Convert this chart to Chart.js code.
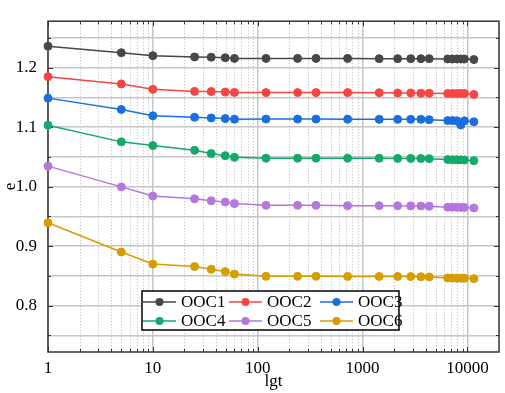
<!DOCTYPE html>
<html>
<head>
<meta charset="utf-8">
<script src="https://cdn.jsdelivr.net/npm/chart.js@4.4.0/dist/chart.umd.min.js"></script>
<style>
  body { margin: 0; background: #fff; }
</style>
</head>
<body>
<canvas id="chart" width="505" height="393"></canvas>
<script>
// time points (x, log axis)
const times = [1, 5, 10, 25, 36, 49, 60, 120, 240, 360, 720, 1440, 2160, 2880, 3600, 4320, 6480, 7200, 7920, 8640, 9360, 11520];

const ooc1 = [1.236, 1.225, 1.220, 1.218, 1.2175, 1.2165, 1.2155, 1.2155, 1.2155, 1.2155, 1.2155, 1.215, 1.215, 1.215, 1.215, 1.215, 1.2145, 1.2145, 1.2145, 1.2145, 1.2145, 1.2135];
const ooc2 = [1.1848, 1.1725, 1.1635, 1.160, 1.1598, 1.1588, 1.1583, 1.158, 1.158, 1.158, 1.158, 1.1578, 1.1575, 1.1575, 1.157, 1.157, 1.1565, 1.1565, 1.1565, 1.1565, 1.1565, 1.1548];
const ooc3 = [1.1487, 1.1297, 1.119, 1.1165, 1.1154, 1.1143, 1.1133, 1.1135, 1.1135, 1.1135, 1.1133, 1.113, 1.113, 1.113, 1.113, 1.1125, 1.111, 1.111, 1.1105, 1.1035, 1.1105, 1.109];
const ooc4 = [1.1032, 1.0752, 1.0689, 1.061, 1.0556, 1.052, 1.0492, 1.0478, 1.0478, 1.0478, 1.0478, 1.0476, 1.0474, 1.0474, 1.0472, 1.047, 1.0455, 1.045, 1.0452, 1.045, 1.0448, 1.0435];
const ooc5 = [1.0344, 0.9995, 0.9841, 0.9794, 0.9762, 0.9741, 0.9714, 0.9685, 0.9685, 0.9685, 0.968, 0.968, 0.9678, 0.9676, 0.9674, 0.967, 0.9655, 0.9653, 0.9652, 0.9651, 0.965, 0.9641];
const ooc6 = [0.9392, 0.890, 0.8698, 0.8657, 0.861, 0.8571, 0.853, 0.8492, 0.8492, 0.8492, 0.849, 0.849, 0.849, 0.8488, 0.8485, 0.8482, 0.8465, 0.8462, 0.846, 0.846, 0.846, 0.8452];

const seriesNames = ['OOC1', 'OOC2', 'OOC3', 'OOC4', 'OOC5', 'OOC6'];
const seriesValues = [ooc1, ooc2, ooc3, ooc4, ooc5, ooc6];
const seriesColors = ['#474747', '#f54545', '#1a6fdf', '#14a96c', '#b577de', '#d69d00'];

const xTickLabels = [1, 10, 100, 1000, 10000];
const yTickLabels = [0.8, 0.9, 1.0, 1.1, 1.2];

const FONT = 'Liberation Serif';
const GRID = '#c6c6c6';
const FRAME = '#333333';

const near = (a, b) => Math.abs(a - b) < 1e-6 * Math.max(1, Math.abs(b));
const isDecade = (v) => xTickLabels.some(t => near(v, t));
const isMajorY = (v) => yTickLabels.some(t => near(v, t));

// dotted minor grid, inward ticks and the frame, drawn under the data
const framePlugin = {
    id: 'frame',
    beforeDatasetsDraw(chart) {
        const { ctx, chartArea: a, scales: { x, y } } = chart;
        ctx.save();

        // dotted vertical lines at 2..9 of each decade
        ctx.strokeStyle = '#bbbbbb';
        ctx.lineWidth = 1;
        ctx.setLineDash([1, 2]);
        const minors = [];
        for (let d = 1; d < x.max; d *= 10) {
            for (let k = 2; k < 10; k++) {
                if (d * k < x.max) minors.push(d * k);
            }
        }
        minors.forEach(v => {
            const px = Math.round(x.getPixelForValue(v)) + 0.5;
            ctx.beginPath();
            ctx.moveTo(px, a.top);
            ctx.lineTo(px, a.bottom);
            ctx.stroke();
        });
        ctx.setLineDash([]);

        // inward ticks on all four sides
        ctx.strokeStyle = FRAME;
        ctx.lineWidth = 1;
        const xTicks = xTickLabels.map(v => [v, 5]).concat(minors.map(v => [v, 3]));
        xTicks.forEach(([v, len]) => {
            const px = Math.round(x.getPixelForValue(v)) + 0.5;
            ctx.beginPath();
            ctx.moveTo(px, a.bottom);
            ctx.lineTo(px, a.bottom - len);
            ctx.moveTo(px, a.top);
            ctx.lineTo(px, a.top + len);
            ctx.stroke();
        });
        y.ticks.forEach(t => {
            const len = isMajorY(t.value) ? 5 : 3;
            const py = Math.round(y.getPixelForValue(t.value)) + 0.5;
            ctx.beginPath();
            ctx.moveTo(a.left, py);
            ctx.lineTo(a.left + len, py);
            ctx.moveTo(a.right, py);
            ctx.lineTo(a.right - len, py);
            ctx.stroke();
        });

        ctx.lineWidth = 1.5;
        ctx.strokeRect(a.left, a.top, a.right - a.left, a.bottom - a.top);
        ctx.restore();
    }
};

// boxed legend inside the plot, three columns by two rows
const legendPlugin = {
    id: 'boxLegend',
    afterDraw(chart) {
        const { ctx } = chart;
        const box = { left: 142, top: 291, width: 257, height: 39 };
        const colX = [143, 229, 320];
        const rowY = [302, 321];
        ctx.save();
        ctx.fillStyle = '#ffffff';
        ctx.fillRect(box.left, box.top, box.width, box.height);
        ctx.strokeStyle = '#000000';
        ctx.lineWidth = 1.5;
        ctx.strokeRect(box.left, box.top, box.width, box.height);

        ctx.font = `17px "${FONT}"`;
        ctx.textBaseline = 'middle';
        chart.data.datasets.forEach((ds, i) => {
            const cx = colX[i % 3];
            const cy = rowY[Math.floor(i / 3)];
            ctx.strokeStyle = ds.borderColor;
            ctx.lineWidth = 1.5;
            ctx.beginPath();
            ctx.moveTo(cx, cy);
            ctx.lineTo(cx + 33, cy);
            ctx.stroke();
            ctx.fillStyle = ds.borderColor;
            ctx.beginPath();
            ctx.arc(cx + 16.5, cy, 4, 0, Math.PI * 2);
            ctx.fill();
            ctx.fillStyle = '#000000';
            ctx.fillText(ds.label, cx + 38, cy + 1);
        });
        ctx.restore();
    }
};

const datasets = seriesNames.map((name, i) => ({
    label: name,
    data: times.map((t, j) => ({ x: t, y: seriesValues[i][j] })),
    borderColor: seriesColors[i],
    backgroundColor: seriesColors[i],
    pointBackgroundColor: seriesColors[i],
    borderWidth: 1.5,
    pointRadius: 4,
    pointBorderWidth: 1,
    pointStyle: 'circle',
    clip: false,
}));

new Chart(document.getElementById('chart').getContext('2d'), {
    type: 'line',
    data: { datasets: datasets },
    options: {
        responsive: false,
        animation: false,
        layout: { padding: { top: 2, right: 2, left: 0, bottom: 0 } },
        plugins: {
            legend: { display: false },
            tooltip: { enabled: false },
        },
        scales: {
            x: {
                type: 'logarithmic',
                min: 1,
                max: 20000,
                afterFit: (s) => { s.height = 41; },
                border: { display: false },
                grid: {
                    color: (c) => (c.tick && isDecade(c.tick.value)) ? GRID : 'rgba(0,0,0,0)',
                    lineWidth: 1.5,
                    drawTicks: false,
                },
                ticks: {
                    autoSkip: false,
                    maxRotation: 0,
                    padding: 6,
                    color: '#000000',
                    font: { family: FONT, size: 17 },
                    callback: (v) => isDecade(v) ? String(Math.round(v)) : '',
                },
                title: {
                    display: true,
                    text: 'lgt',
                    color: '#000000',
                    font: { family: FONT, size: 17 },
                    padding: { top: 0, bottom: 1 },
                },
            },
            y: {
                min: 0.722,
                max: 1.278,
                afterFit: (s) => { s.width = 48; },
                border: { display: false },
                grid: {
                    color: GRID,
                    lineWidth: 1.5,
                    drawTicks: false,
                },
                ticks: {
                    stepSize: 0.05,
                    includeBounds: false,
                    padding: 11,
                    color: '#000000',
                    font: { family: FONT, size: 17 },
                    callback: (v) => isMajorY(v) ? v.toFixed(1) : '',
                },
                title: {
                    display: true,
                    text: 'e',
                    color: '#000000',
                    font: { family: FONT, size: 17 },
                    padding: 0,
                },
            },
        },
    },
    plugins: [framePlugin, legendPlugin],
});
</script>
</body>
</html>
